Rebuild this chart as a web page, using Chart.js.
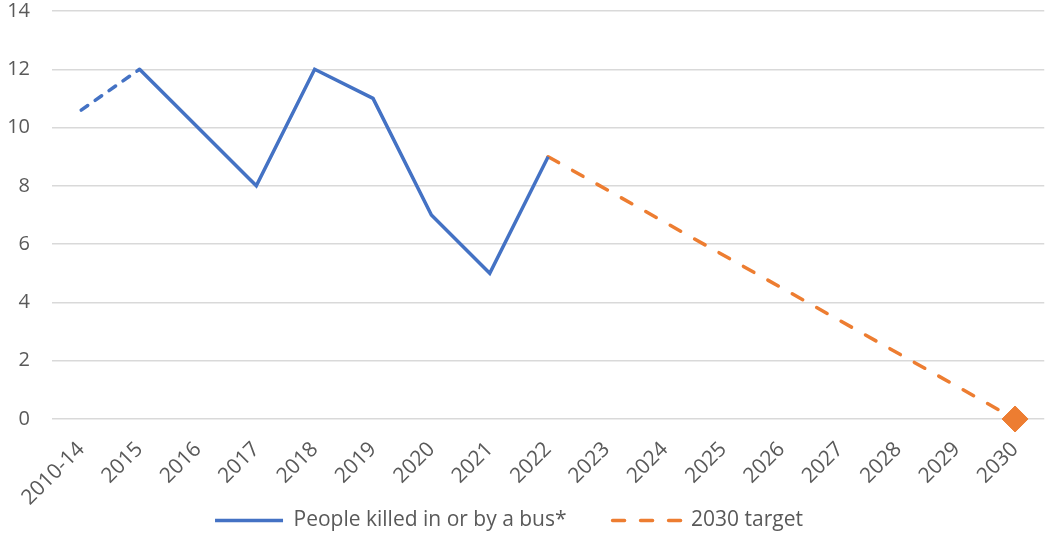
<!DOCTYPE html>
<html>
<head>
<meta charset="utf-8">
<script src="https://cdn.jsdelivr.net/npm/chart.js@4"></script>
<style>
  body { margin: 0; background: #fff; }
  #wrap { width: 1046px; height: 534px; }
</style>
</head>
<body>
<div id="wrap"><canvas id="myChart"></canvas></div>
<script>
// data
const years = ["2010-14", "2015", "2016", "2017", "2018", "2019", "2020", "2021", "2022",
  "2023", "2024", "2025", "2026", "2027", "2028", "2029", "2030"];
const killed = [10.6, 12, 10, 8, 12, 11, 7, 5, 9, null, null, null, null, null, null, null, null];
const target = [null, null, null, null, null, null, null, null, 9, null, null, null, null, null, null, null, 0];
const yTicks = [0, 2, 4, 6, 8, 10, 12, 14];

const grey = "#595959";
const blue = "#4472C4";
const orange = "#ED7D31";
const fontFam = "'Open Sans', 'Liberation Sans', sans-serif";
const targetDash = [12, 16];
const last = years.length - 1;

// legend sits a bit left of the canvas centre in the original
const legendShift = {
  id: "legendShift",
  afterLayout(chart) {
    chart.legend.left -= 14;
    chart.legend.right -= 14;
  },
};

const ctx = document.getElementById("myChart").getContext("2d");
const myChart = new Chart(ctx, {
  type: "line",
  data: {
    labels: years,
    datasets: [
      {
        label: "People killed in or by a bus*",
        data: killed,
        borderColor: blue,
        backgroundColor: blue,
        borderWidth: 3.5,
        pointRadius: 0,
        tension: 0,
        segment: {
          // first segment (2010-14 average) is dashed
          borderDash: (c) => (c.p0DataIndex === 0 ? [8, 9] : undefined),
          borderCapStyle: (c) => (c.p0DataIndex === 0 ? "round" : undefined),
        },
      },
      {
        label: "2030 target",
        data: target,
        borderColor: orange,
        backgroundColor: orange,
        borderWidth: 3.5,
        borderDash: targetDash,
        borderCapStyle: "round",
        spanGaps: true,
        clip: false,
        tension: 0,
        // diamond only on the 2030 point
        pointStyle: "rectRot",
        pointRadius: (c) => (c.dataIndex === last ? 13 : 0),
        pointHoverRadius: (c) => (c.dataIndex === last ? 13 : 0),
        pointBorderWidth: 1,
        pointBorderColor: orange,
        pointBackgroundColor: orange,
      },
    ],
  },
  options: {
    responsive: true,
    maintainAspectRatio: false,
    animation: false,
    layout: { padding: 0 },
    plugins: {
      tooltip: { enabled: false },
      legend: {
        position: "bottom",
        maxHeight: 70,
        labels: {
          usePointStyle: true,
          pointStyle: "line",
          pointStyleWidth: 68,
          padding: 46,
          color: grey,
          font: { family: fontFam, size: 21 },
          generateLabels: (chart) =>
            chart.data.datasets.map((ds, i) => ({
              text: ds.label,
              datasetIndex: i,
              fillStyle: ds.borderColor,
              strokeStyle: ds.borderColor,
              lineWidth: 3.5,
              lineCap: i === 1 ? "round" : "butt",
              lineDash: i === 1 ? targetDash : [],
              pointStyle: "line",
              fontColor: grey,
            })),
        },
      },
    },
    scales: {
      x: {
        offset: true,
        grid: { display: false, drawTicks: false },
        border: { display: false },
        ticks: {
          color: grey,
          font: { family: fontFam, size: 21 },
          minRotation: 45,
          maxRotation: 45,
          padding: 18,
        },
        afterFit: (s) => {
          s.paddingRight = 0;
          s.paddingLeft = 0;
          s.height = 45;
          // rotated labels hang below the box, don't clip them
          s._computeLabelArea = () => undefined;
        },
      },
      y: {
        min: 0,
        max: 14,
        afterBuildTicks: (axis) => {
          axis.ticks = yTicks.map((v) => ({ value: v }));
        },
        grid: { color: "#d9d9d9", lineWidth: 1.5, drawTicks: false },
        border: { display: false },
        ticks: {
          color: grey,
          font: { family: fontFam, size: 20 },
          padding: 22,
        },
        afterFit: (s) => {
          s.width = 52;
          s.paddingTop = 11;
          s.paddingBottom = 0;
        },
      },
    },
  },
  plugins: [legendShift],
});
// the big 2030 diamond should not shrink the plot area
myChart.getDatasetMeta(1).controller.getMaxOverflow = () => 0;
myChart.update();
</script>
</body>
</html>
